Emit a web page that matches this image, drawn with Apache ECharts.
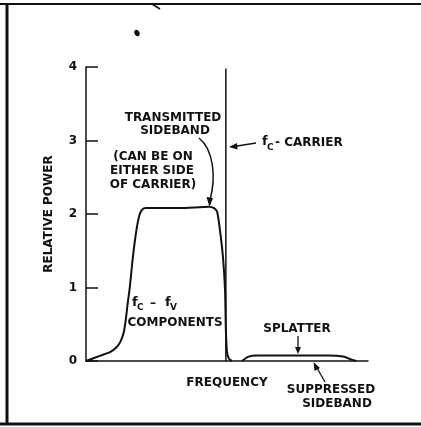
<!DOCTYPE html>
<html>
<head>
<meta charset="utf-8">
<script src="https://cdn.jsdelivr.net/npm/echarts@6/dist/echarts.min.js"></script>
<style>
  html, body { margin: 0; padding: 0; background: #fff; }
  #chart { width: 421px; height: 427px; }
</style>
</head>
<body>
<div id="chart"></div>
<script>
// frequency axis is arbitrary 0..100, power in relative units
const sidebandFreq = [0, 4.9, 8.5, 10.9, 12.3, 13.4, 14.1, 14.8, 15.5, 16.5, 17.6, 18.7, 19.7, 21.1, 33.1, 43.7, 45.4, 46.5, 47.5, 48.6, 49.3, 49.6, 50.0, 50.7, 51.8]
const sidebandPower = [0, 0.07, 0.12, 0.19, 0.27, 0.39, 0.56, 0.79, 0.99, 1.37, 1.71, 1.95, 2.05, 2.08, 2.08, 2.10, 2.08, 2.03, 1.78, 1.40, 0.97, 0.42, 0.12, 0.03, 0]

const carrierFreq = [49.6, 49.6]
const carrierPower = [0, 3.98]

const splatterFreq = [55.3, 57.7, 60.6, 75.4, 85.9, 91.2, 93.7, 95.8]
const splatterPower = [0, 0.06, 0.075, 0.075, 0.075, 0.06, 0.025, 0]

const yTicks = [0, 1, 2, 3, 4]

const zip = (xs, ys) => xs.map((x, i) => [x, ys[i]])

const font = 'DejaVu Sans'
const ink = '#111'

function label(text, x, y, size, align) {
  return {
    type: 'text',
    x: x,
    y: y,
    style: {
      text: text,
      font: 'bold ' + (size || 12) + 'px "' + font + '"',
      fill: ink,
      align: align || 'center',
      verticalAlign: 'middle'
    }
  }
}

function seg(x1, y1, x2, y2, w) {
  return {
    type: 'line',
    shape: { x1, y1, x2, y2 },
    style: { stroke: ink, lineWidth: w || 1.5 }
  }
}

function head(points) {
  return { type: 'polygon', shape: { points }, style: { fill: ink } }
}

const chart = echarts.init(document.getElementById('chart'), null, { renderer: 'canvas' })

chart.setOption({
  animation: false,
  backgroundColor: '#fff',
  grid: { left: 86, right: 53, top: 67, bottom: 66 },
  xAxis: {
    type: 'value',
    min: 0,
    max: 100,
    name: 'FREQUENCY',
    nameLocation: 'middle',
    nameGap: 16,
    nameTextStyle: { fontFamily: font, fontSize: 12, fontWeight: 'bold', color: ink },
    axisLine: { lineStyle: { color: ink, width: 1.5 } },
    axisTick: { show: false },
    axisLabel: { show: false },
    splitLine: { show: false }
  },
  yAxis: {
    type: 'value',
    min: 0,
    max: 4,
    interval: 1,
    name: 'RELATIVE POWER',
    nameLocation: 'middle',
    nameRotate: 90,
    nameGap: 31,
    nameTextStyle: { fontFamily: font, fontSize: 12, fontWeight: 'bold', color: ink },
    axisLine: { show: true, lineStyle: { color: ink, width: 1.5 } },
    axisTick: { show: true, inside: true, length: 12, lineStyle: { color: ink, width: 1.5 } },
    axisLabel: {
      margin: 9,
      fontFamily: font,
      fontSize: 12,
      fontWeight: 'bold',
      color: ink,
      formatter: (v) => (yTicks.includes(v) ? String(v) : '')
    },
    splitLine: { show: false }
  },
  series: [
    {
      name: 'sideband',
      type: 'line',
      data: zip(sidebandFreq, sidebandPower),
      smooth: 0.25,
      showSymbol: false,
      lineStyle: { color: ink, width: 2 }
    },
    {
      name: 'carrier',
      type: 'line',
      data: zip(carrierFreq, carrierPower),
      showSymbol: false,
      lineStyle: { color: ink, width: 1.5 }
    },
    {
      name: 'splatter',
      type: 'line',
      data: zip(splatterFreq, splatterPower),
      smooth: 0.3,
      showSymbol: false,
      lineStyle: { color: ink, width: 2 }
    }
  ],
  graphic: [
    // scanned page frame
    seg(0, 4, 421, 4, 2),
    seg(7, 4, 7, 425, 3),
    seg(0, 424, 421, 424, 3),
    // scan specks
    { type: 'ellipse', shape: { cx: 137, cy: 33, rx: 2.5, ry: 3.5 }, style: { fill: ink }, rotation: 0.5, originX: 137, originY: 33 },
    seg(152, 4, 160, 9, 1.5),

    // transmitted sideband note
    label('TRANSMITTED', 173, 118),
    label('SIDEBAND', 175, 131),
    {
      type: 'bezierCurve',
      shape: { x1: 199, y1: 138, cpx1: 214, cpy1: 150, cpx2: 216, cpy2: 178, x2: 210, y2: 200 },
      style: { stroke: ink, lineWidth: 1.5, fill: null }
    },
    head([[206.5, 197], [213, 198], [209.5, 207]]),
    label('(CAN BE ON', 153, 157),
    label('EITHER SIDE', 152, 171),
    label('OF CARRIER)', 153, 185),

    // carrier
    label('f', 262, 142, 13, 'left'),
    label('C', 267, 148, 9, 'left'),
    label('- CARRIER', 275, 143, 12, 'left'),
    seg(256, 143, 234, 146.5, 1.3),
    head([[229, 147], [237, 143], [237.5, 149.5]]),

    // components
    label('f', 132, 303, 13, 'left'),
    label('C', 137, 308, 9, 'left'),
    label('–', 153, 304, 12),
    label('f', 165, 303, 13, 'left'),
    label('V', 170, 308, 9, 'left'),
    label('COMPONENTS', 175, 323),

    // splatter
    label('SPLATTER', 297, 329),
    seg(298, 336, 298, 348, 1.3),
    head([[295, 347], [301, 347], [298, 354]]),

    // suppressed sideband
    label('SUPPRESSED', 331, 390),
    label('SIDEBAND', 337, 404),
    seg(325, 382, 317, 368, 1.3),
    head([[313.5, 362], [320, 368], [314.5, 371]])
  ]
})
</script>
</body>
</html>
